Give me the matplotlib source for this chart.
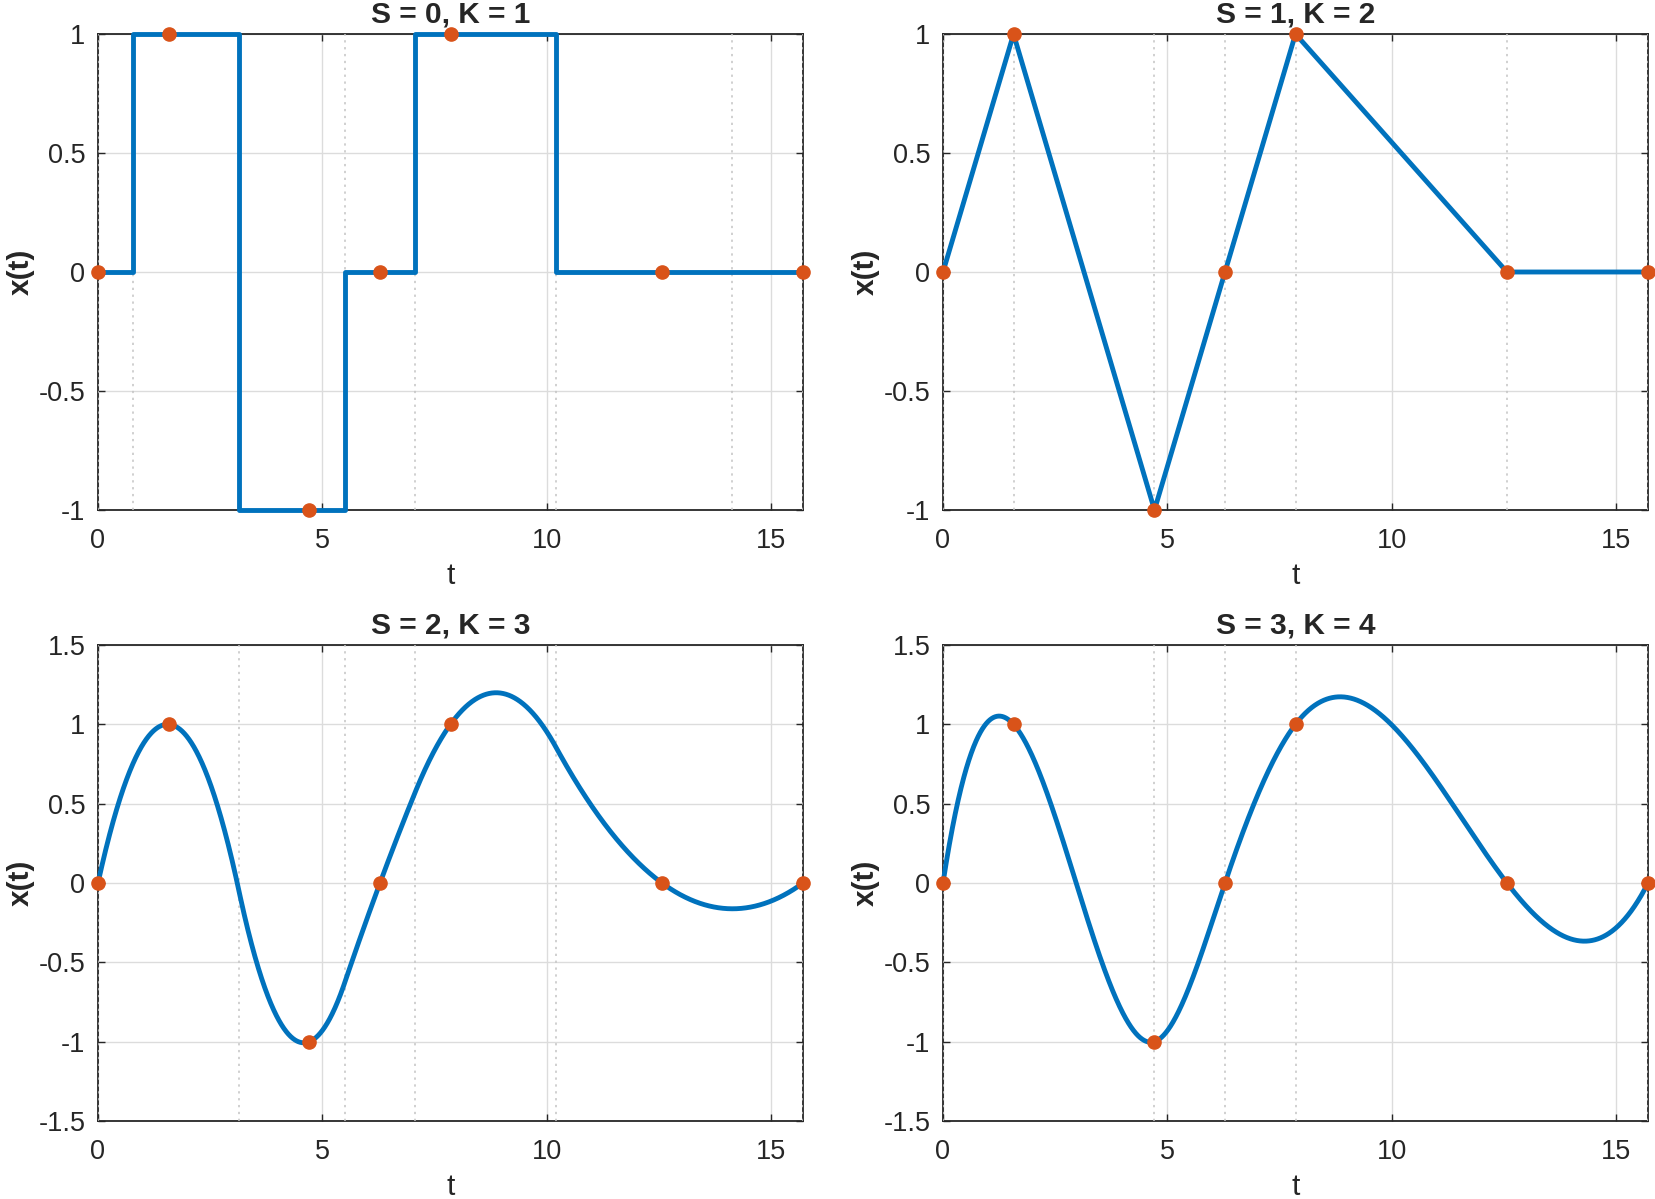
import numpy as np
import matplotlib
matplotlib.use("Agg")
import matplotlib.pyplot as plt

plt.rcParams['font.family'] = ['Liberation Sans', 'DejaVu Sans']

# sample points (t, x) marked in orange
t_pts = [0.0, 1.571, 4.712, 6.283, 7.854, 12.566, 15.708]
x_pts = [0, 1, -1, 0, 1, 0, 0]

# B-spline order per panel and knot sequences (dotted lines)
orders = [1, 2, 3, 4]
knots = [
    [0.0, 0.785, 3.142, 5.498, 7.069, 10.21, 14.137, 15.708],
    [0.0, 0.0, 1.571, 4.712, 6.283, 7.854, 12.566, 15.708, 15.708],
    [0.0, 0.0, 0.0, 3.142, 5.498, 7.069, 10.21, 15.708, 15.708, 15.708],
    [0.0, 0.0, 0.0, 0.0, 4.712, 6.283, 7.854, 15.708, 15.708, 15.708, 15.708],
]
ylims = [(-1, 1), (-1, 1), (-1.5, 1.5), (-1.5, 1.5)]
yticks = [[-1, -0.5, 0, 0.5, 1], [-1, -0.5, 0, 0.5, 1],
          [-1.5, -1, -0.5, 0, 0.5, 1, 1.5], [-1.5, -1, -0.5, 0, 0.5, 1, 1.5]]
ytick_labels = [['-1', '-0.5', '0', '0.5', '1'], ['-1', '-0.5', '0', '0.5', '1'],
                ['-1.5', '-1', '-0.5', '0', '0.5', '1', '1.5'],
                ['-1.5', '-1', '-0.5', '0', '0.5', '1', '1.5']]


def bspl_basis(x, tk, k):
    # Cox-de Boor, order k, returns (len(x), n) matrix
    x = np.atleast_1d(np.asarray(x, float))
    tk = np.asarray(tk, float)
    n = len(tk) - k
    m = len(tk) - 1
    B = np.zeros((len(x), m))
    for i in range(m):
        if tk[i] < tk[i + 1]:
            B[:, i] = (x >= tk[i]) & (x < tk[i + 1])
    # include right end in the last nonempty interval
    last = max(i for i in range(m) if tk[i] < tk[i + 1])
    B[x >= tk[-1], last] = 1.0
    for kk in range(2, k + 1):
        Bn = np.zeros((len(x), m - kk + 1))
        for i in range(m - kk + 1):
            d1 = tk[i + kk - 1] - tk[i]
            d2 = tk[i + kk] - tk[i + 1]
            if d1 > 0:
                Bn[:, i] += (x - tk[i]) / d1 * B[:, i]
            if d2 > 0:
                Bn[:, i] += (tk[i + kk] - x) / d2 * B[:, i + 1]
        B = Bn
    return B[:, :n]


fig = plt.figure(figsize=(16.56, 11.99), dpi=100)
W, H = 1656, 1199
boxes = [(98, 34, 803, 510), (943, 34, 1648, 510),
         (98, 645, 803, 1121), (943, 645, 1648, 1121)]

axcol = '#262626'
for p in range(4):
    x0, y0, x1, y1 = boxes[p]
    ax = fig.add_axes([x0 / W, 1 - y1 / H, (x1 - x0) / W, (y1 - y0) / H])
    k = orders[p]
    tk = knots[p]
    # collocation solve for coefficients
    A = bspl_basis(t_pts, tk, k)
    c = np.linalg.solve(A, np.asarray(x_pts, float))
    if k == 1:
        # piecewise constant: draw as steps
        ts = []
        xs = []
        for i in range(len(c)):
            ts += [tk[i], tk[i + 1]]
            xs += [c[i], c[i]]
        ts = np.array(ts)
        xs = np.array(xs)
    else:
        ts = np.linspace(tk[0], tk[-1], 2000)
        xs = bspl_basis(ts, tk, k) @ c

    ax.grid(True, color='#dcdcdc', linewidth=1.0)
    ax.set_axisbelow(True)
    for kv in sorted(set(tk)):
        ax.axvline(kv, color='#c4c4c4', linestyle=(0, (1.5, 3)), linewidth=1.1,
                   zorder=2.6)
    ax.plot(ts, xs, color='#0072BD', linewidth=3.5, zorder=3, clip_on=False)
    ax.plot(t_pts, x_pts, 'o', color='#D95319', markersize=9.5, zorder=4,
            clip_on=False)

    ax.set_xlim(0, 15.708)
    ax.set_ylim(*ylims[p])
    ax.set_xticks([0, 5, 10, 15])
    ax.set_xticklabels(['0', '5', '10', '15'])
    ax.set_yticks(yticks[p])
    ax.set_yticklabels(ytick_labels[p])
    ax.tick_params(direction='in', length=5, width=1, colors=axcol,
                   labelsize=19.5, top=True, right=True, pad=9)
    ax.tick_params(axis='x', pad=13)
    for s in ax.spines.values():
        s.set_color(axcol)
        s.set_linewidth(1.3)
        s.set_zorder(2.5)
    ax.set_title('S = %d, K = %d' % (k - 1, k), fontsize=21.5, fontweight='bold',
                 color=axcol, pad=8)
    ax.set_xlabel('t', fontsize=21.5, color=axcol, labelpad=6)
    ax.set_ylabel('x(t)', fontsize=21.5, fontweight='bold', color=axcol, labelpad=3)

fig.savefig('out.png', dpi=100)
